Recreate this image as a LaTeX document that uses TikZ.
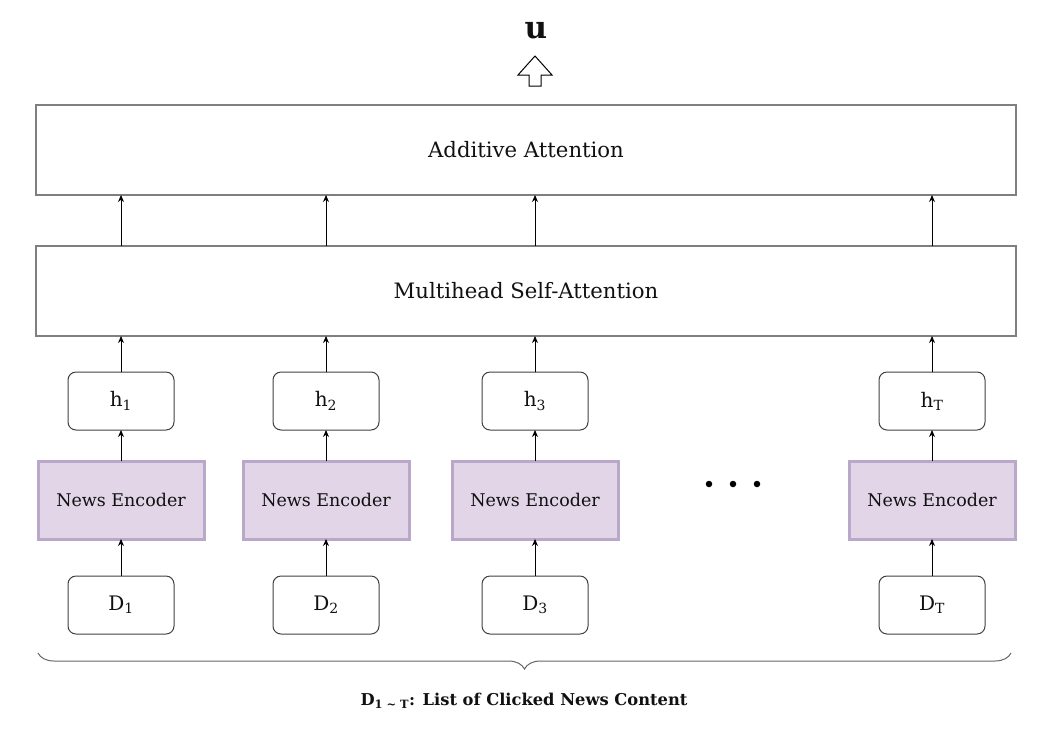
\documentclass[tikz,border=0pt]{standalone}
\usepackage{fontspec}
\setmainfont{DejaVu Serif}
\usetikzlibrary{arrows.meta,decorations.pathreplacing}
\definecolor{boxgray}{HTML}{7F7F7F}
\definecolor{nefill}{HTML}{E1D5E7}
\definecolor{nedraw}{HTML}{B9A8CA}
\definecolor{txt}{HTML}{111111}
\tikzset{
  bigbox/.style={draw=boxgray,line width=1.5pt,minimum width=980pt,minimum height=90pt,inner sep=0pt,outer sep=0pt,font=\fontsize{21.2}{25}\selectfont,text=txt},
  hbox/.style={draw=black!75,line width=1pt,rounded corners=8pt,minimum width=106pt,minimum height=58pt,inner sep=0pt,outer sep=0pt,font=\fontsize{20}{24}\selectfont,text=txt},
  encbox/.style={draw=nedraw,fill=nefill,line width=3pt,minimum width=166pt,minimum height=78pt,inner sep=0pt,outer sep=0pt,font=\fontsize{17.5}{21}\selectfont,text=txt},
  arr/.style={draw=black,line width=0.9pt,-{Stealth[length=7pt,width=6pt]}},
  dotmark/.style={circle,fill=black,inner sep=0pt,minimum size=6.5pt},
}
\begin{document}
\begin{tikzpicture}[x=1pt,y=-1pt]
\useasboundingbox (0,0) rectangle (1056,734);
% top output
\node[font=\bfseries\fontsize{31}{33}\selectfont,text=txt] (u) at (536,31) {u};
\draw[line width=1pt,fill=white] (535,56) -- (552,75) -- (541,75) -- (541,86) -- (529,86) -- (529,75) -- (518,75) -- cycle;
% big boxes
\node[bigbox] (aa) at (526,150) {Additive Attention};
\node[bigbox] (ma) at (526,291) {Multihead Self-Attention};
% columns
\foreach \n/\x/\s in {1/121/1,2/326/2,3/535/3,4/932/T}{
  \node[hbox] (h\n) at (\x,401) {h\textsubscript{\s}};
  \node[encbox] (e\n) at (\x,500) {News Encoder};
  \node[hbox] (d\n) at (\x,605) {D\textsubscript{\s}};
  \draw[arr] (d\n.north) -- (e\n.south);
  \draw[arr] (e\n.north) -- (h\n.south);
  \draw[arr] (h\n.north) -- (ma.south -| h\n.north);
  \draw[arr] (ma.north -| h\n.north) -- (aa.south -| h\n.north);
}
% dots
\node[dotmark] (dot1) at (709,484) {};
\node[dotmark] (dot2) at (733,484) {};
\node[dotmark] (dot3) at (757,484) {};
% brace
\coordinate (bl) at (38,653);
\coordinate (br) at (1011,653);
\draw[draw=black!60,line width=1pt,decorate,decoration={brace,mirror,amplitude=16pt}] (bl) -- (br);
\node[font=\bfseries\fontsize{16.3}{19}\selectfont,text=txt] (cap) at (524,701) {D\textsubscript{1 \textasciitilde{} T}: List of Clicked News Content};
\end{tikzpicture}
\end{document}
